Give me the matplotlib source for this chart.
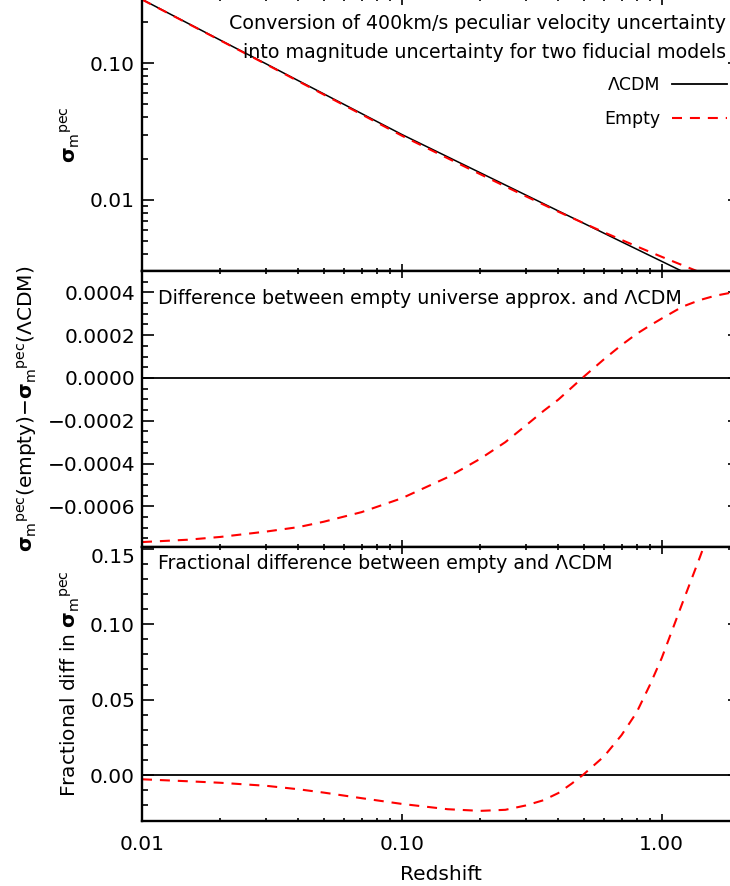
import numpy as np
import matplotlib
matplotlib.use("Agg")
import matplotlib.pyplot as plt
from matplotlib.ticker import FixedLocator, FixedFormatter, LogLocator, MultipleLocator, NullFormatter
from matplotlib.lines import Line2D
from matplotlib.transforms import ScaledTranslation

plt.rcParams['font.family'] = ['DejaVu Sans']
plt.rcParams['mathtext.fontset'] = 'dejavusans'

# ---------------- data ----------------
redshift = [0.01, 0.015, 0.02, 0.03, 0.04, 0.05, 0.07, 0.1, 0.15, 0.2, 0.25, 0.3,
            0.35, 0.4, 0.45, 0.5, 0.6, 0.7, 0.8, 0.9, 1.0, 1.2, 1.4, 1.6, 1.8, 2.0]

sigma_lcdm = [0.293, 0.196, 0.1475, 0.0989, 0.0743, 0.0596, 0.0427, 0.0300,
              0.02058, 0.01575, 0.0128, 0.0108, 0.00936, 0.00826, 0.00741,
              0.00672, 0.00567, 0.00491, 0.00434, 0.00389, 0.00353, 0.00298,
              0.00258, 0.00228, 0.00204, 0.00185]

sigma_empty = [0.2922, 0.1952, 0.1468, 0.0982, 0.0736, 0.0589, 0.0421, 0.0294,
               0.0201, 0.01537, 0.0125, 0.01058, 0.00921, 0.00816, 0.00737,
               0.00673, 0.00576, 0.00507, 0.00455, 0.00414, 0.00381, 0.00331,
               0.00294, 0.00266, 0.00244, 0.00226]

sigma_diff = [-0.000767, -0.000756, -0.000743, -0.000718, -0.000697, -0.000672,
              -0.000627, -0.000562, -0.000464, -0.000378, -0.000300, -0.000222,
              -0.000155, -0.000101, -0.000045, 0.000005, 0.000088, 0.000154,
              0.000206, 0.000245, 0.000278, 0.000333, 0.000364, 0.000384,
              0.000396, 0.000405]

frac_diff = [-0.0027, -0.0040, -0.0050, -0.0070, -0.0093, -0.0115, -0.0152,
             -0.0190, -0.0225, -0.0236, -0.0229, -0.0200, -0.0166, -0.0118,
             -0.0056, 0.0005, 0.0125, 0.0265, 0.0415, 0.0597, 0.0776, 0.1138,
             0.1440, 0.1710, 0.1940, 0.2130]

x_ticks = [0.01, 0.1, 1.0]
x_ticklabels = ['0.01', '0.10', '1.00']
top_yticks = [0.01, 0.1]
top_yticklabels = ['0.01', '0.10']
mid_yticks = [-0.0006, -0.0004, -0.0002, 0.0, 0.0002, 0.0004]
mid_yticklabels = ['\u22120.0006', '\u22120.0004', '\u22120.0002', '0.0000', '0.0002', '0.0004']
bot_yticks = [0.0, 0.05, 0.10, 0.15]
bot_yticklabels = ['0.00', '0.05', '0.10', '0.15']

# ---------------- layout ----------------
W, H = 730, 886
fig = plt.figure(figsize=(W / 100, H / 100), dpi=100)

def rect(x0, x1, ytop, ybot):
    return [x0 / W, 1 - ybot / H, (x1 - x0) / W, (ybot - ytop) / H]

ax1 = fig.add_axes(rect(142, 740, -2, 271))
ax2 = fig.add_axes(rect(142, 740, 271, 547))
ax3 = fig.add_axes(rect(142, 740, 547, 821))

FS = 14.5
FS_NOTE = 13.7
RED = '#ff0000'
DASH = (4.8, 3.8)

for ax in (ax1, ax2, ax3):
    ax.set_xscale('log')
    ax.set_xlim(0.01, 2.0)
    ax.xaxis.set_major_locator(FixedLocator(x_ticks))
    ax.xaxis.set_minor_locator(LogLocator(base=10, subs=np.arange(2, 10)))
    ax.xaxis.set_minor_formatter(NullFormatter())
    ax.tick_params(which='both', direction='in', top=True, right=True,
                   labelsize=FS, width=1.2, color='black')
    ax.tick_params(axis='y', which='major', length=8.6, pad=5)
    ax.tick_params(axis='y', which='minor', length=4.3)
    ax.tick_params(axis='x', which='major', length=4.7, pad=10)
    ax.tick_params(axis='x', which='minor', length=2.5)
    for s in ax.spines.values():
        s.set_linewidth(1.7)

for ax in (ax1, ax2):
    ax.xaxis.set_major_formatter(NullFormatter())
ax3.xaxis.set_major_formatter(FixedFormatter(x_ticklabels))

SIG = r'$\mathbf{\sigma}_{\mathrm{m}}$$^{\mathrm{pec}}$'

# ---- top panel ----
ax1.set_yscale('log')
ax1.set_ylim(0.003, 0.3)
ax1.yaxis.set_major_locator(FixedLocator(top_yticks))
ax1.yaxis.set_major_formatter(FixedFormatter(top_yticklabels))
ax1.yaxis.set_minor_locator(LogLocator(base=10, subs=np.arange(2, 10)))
ax1.yaxis.set_minor_formatter(NullFormatter())
ax1.plot(redshift, sigma_lcdm, color='black', lw=1.1)
l_emp, = ax1.plot(redshift, sigma_empty, color=RED, lw=1.5)
l_emp.set_dashes(DASH)
ax1.set_ylabel(SIG, fontsize=FS, labelpad=6)
ax1.text(0.977, 0.908, 'Conversion of 400km/s peculiar velocity uncertainty',
         transform=ax1.transAxes, ha='right', va='center', fontsize=FS_NOTE)
ax1.text(0.977, 0.802, 'into magnitude uncertainty for two fiducial models',
         transform=ax1.transAxes, ha='right', va='center', fontsize=FS_NOTE)
h1 = Line2D([], [], color='black', lw=1.3)
h2 = Line2D([], [], color=RED, lw=1.5, dashes=DASH)
ax1.legend([h1, h2], ['\u039bCDM', 'Empty'], markerfirst=False, frameon=False,
           loc='upper right', bbox_to_anchor=(0.979, 0.714), borderpad=0,
           borderaxespad=0, fontsize=12.5, handlelength=3.2, handletextpad=0.67,
           labelspacing=0.9)

# ---- middle panel ----
ax2.set_ylim(-0.00079, 0.0005)
ax2.yaxis.set_major_locator(FixedLocator(mid_yticks))
ax2.yaxis.set_major_formatter(FixedFormatter(mid_yticklabels))
ax2.yaxis.set_minor_locator(MultipleLocator(0.00005))
ax2.axhline(0.0, color='black', lw=1.3)
l2, = ax2.plot(redshift, sigma_diff, color=RED, lw=1.5)
l2.set_dashes(DASH)
ax2.set_ylabel(SIG + '(empty)\u2212' + SIG + '(\u039bCDM)', fontsize=FS, labelpad=6)
ax2.text(0.027, 0.899, 'Difference between empty universe approx. and \u039bCDM',
         transform=ax2.transAxes, ha='left', va='center', fontsize=FS_NOTE)

# ---- bottom panel ----
ax3.set_ylim(-0.0303, 0.151)
ax3.yaxis.set_major_locator(FixedLocator(bot_yticks))
ax3.yaxis.set_major_formatter(FixedFormatter(bot_yticklabels))
ax3.yaxis.set_minor_locator(MultipleLocator(0.01))
ax3.axhline(0.0, color='black', lw=1.3)
l3, = ax3.plot(redshift, frac_diff, color=RED, lw=1.5)
l3.set_dashes(DASH)
ax3.set_ylabel('Fractional diff in ' + SIG, fontsize=FS, labelpad=6)
ax3.text(0.027, 0.938, 'Fractional difference between empty and \u039bCDM',
         transform=ax3.transAxes, ha='left', va='center', fontsize=FS_NOTE)
ax3.set_xlabel('Redshift', fontsize=FS, labelpad=8)

fig.canvas.draw()
for lab in ax3.get_yticklabels():
    if lab.get_text() == '0.15':
        lab.set_transform(lab.get_transform() + ScaledTranslation(0, -7 / 100, fig.dpi_scale_trans))

fig.savefig('out.png', dpi=100)
